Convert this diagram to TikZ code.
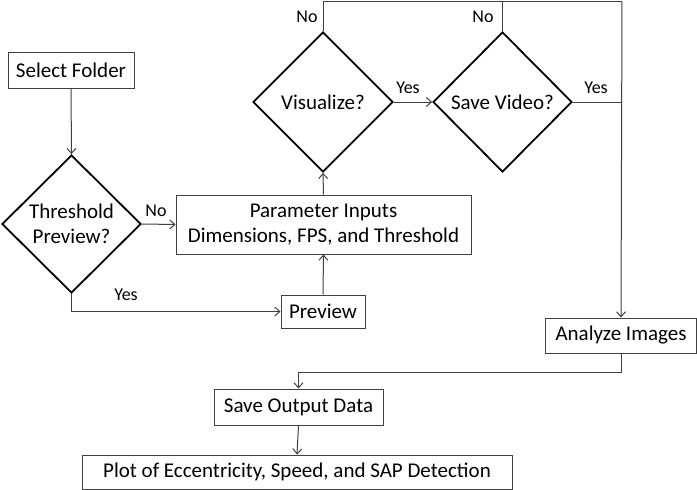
\documentclass[tikz,border=0pt]{standalone}
\usepackage{fontspec}
\setmainfont{Carlito}
\usetikzlibrary{positioning, arrows.meta, shapes.geometric, calc}

\begin{document}
\begin{tikzpicture}[
    x=1pt, y=-1pt,
    box/.style={rectangle, draw=black!75, line width=1pt, font=\fontsize{21}{25}\selectfont,
                align=center, inner sep=0pt},
    decision/.style={diamond, draw=black, line width=1.8pt, font=\fontsize{21}{25}\selectfont,
                     align=center, inner sep=0pt, minimum width=140pt, minimum height=140pt},
    lbl/.style={font=\fontsize{18}{21}\selectfont, inner sep=0pt},
    link/.style={draw=black!75, line width=1pt},
    arr/.style={link, -{Straight Barb[length=5pt, width=9pt, line width=1pt]}}
]
    \useasboundingbox (0,0) rectangle (697,490);

    % Boxes
    \node[box, minimum width=126pt, minimum height=36pt] (folder) at (71,70) {Select Folder};
    \node[box, minimum width=295pt, minimum height=59pt] (params) at (323.5,224.5)
        {Parameter Inputs\\Dimensions, FPS, and Threshold};
    \node[box, minimum width=84pt, minimum height=33pt] (preview) at (323,311.5) {Preview};
    \node[box, minimum width=151pt, minimum height=35pt] (analyze) at (621,335.5) {Analyze Images};
    \node[box, minimum width=169pt, minimum height=36pt] (output) at (298.5,407) {Save Output Data};
    \node[box, minimum width=430pt, minimum height=34pt] (plot) at (297,472)
        {Plot of Eccentricity, Speed, and SAP Detection};

    % Decisions
    \node[decision, minimum width=139pt, minimum height=138pt] (thresh) at (71.5,224) {Threshold\\Preview?};
    \node[decision] (visual) at (323,102) {Visualize?};
    \node[decision, minimum width=139pt] (video) at (502.5,102) {Save Video?};

    % Corners
    \coordinate (topright) at (622,1.5);

    % Connectors
    \draw[arr] (folder.south) -- (thresh.north);
    \draw[arr] (thresh.east) -- (params.west);
    \draw[arr] (thresh.south) |- (preview.west);
    \draw[arr] (preview.north) -- (params.south);
    \draw[arr] (params.north) -- (visual.south);
    \draw[arr] (visual.east) -- (video.west);
    \draw[link] (visual.north) |- (topright);
    \draw[link] (video.north) -- (video.north |- topright);
    \draw[link] (video.east) -- (video.east -| topright);
    \draw[arr] (topright) -- (analyze.north);
    \draw[arr] (analyze.south) -- ++(0,19) -| (output.north);
    \draw[arr] (output.south) -- (plot.north);

    % Labels
    \node[lbl] (noThresh) at (156,211) {No};
    \node[lbl] (yesThresh) at (126,295) {Yes};
    \node[lbl] (noVisual) at (307,17) {No};
    \node[lbl] (yesVisual) at (408,88) {Yes};
    \node[lbl] (noVideo) at (483,17) {No};
    \node[lbl] (yesVideo) at (596,88) {Yes};
\end{tikzpicture}
\end{document}
